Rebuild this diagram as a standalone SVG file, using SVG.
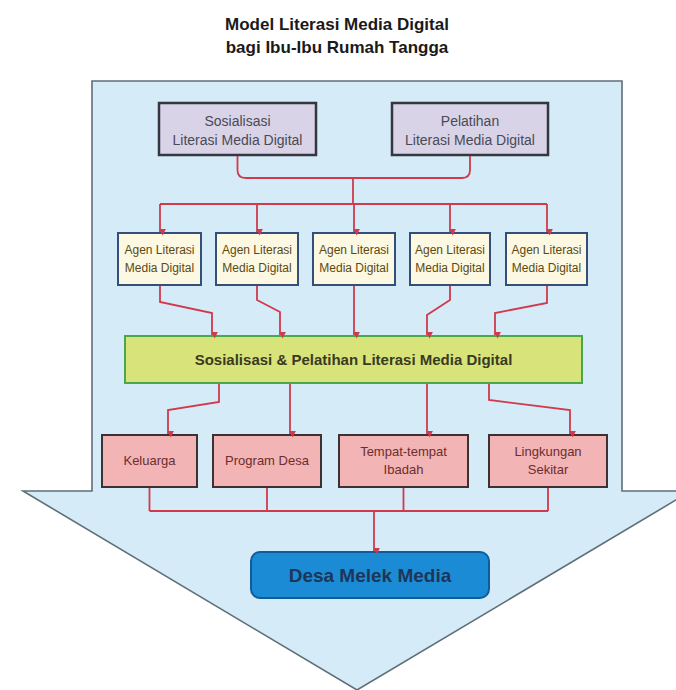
<svg xmlns="http://www.w3.org/2000/svg" width="676" height="690" viewBox="0 0 676 690">
<defs>
<style>
.title{font-family:"Liberation Sans",Arial,sans-serif;font-weight:bold;font-size:17px;fill:#1a1a1a;text-anchor:middle}
.top rect{fill:#d9d3e8;stroke:#34373f;stroke-width:2.5}
.top text{font-family:"Liberation Sans",Arial,sans-serif;font-size:14px;fill:#4a4a55;text-anchor:middle}
.agen rect{fill:#fdf8e2;stroke:#34507a;stroke-width:2}
.agen text{font-family:"Liberation Sans",Arial,sans-serif;font-size:12px;fill:#5a4a12;text-anchor:middle}
.green rect{fill:#d8e47a;stroke:#4aa84c;stroke-width:2}
.green text{font-family:"Liberation Sans",Arial,sans-serif;font-weight:bold;font-size:15px;fill:#3a3a22;text-anchor:middle}
.pink rect{fill:#f2b4b4;stroke:#3c3234;stroke-width:2}
.pink text{font-family:"Liberation Sans",Arial,sans-serif;font-size:13px;fill:#6b2e30;text-anchor:middle}
.desa rect{fill:#1c8bd6;stroke:#0f5c9c;stroke-width:2}
.desa text{font-family:"Liberation Sans",Arial,sans-serif;font-weight:bold;font-size:19px;fill:#1b3658;text-anchor:middle}
.conn path{fill:none;stroke:#d13a4c;stroke-width:1.8}
.conn path.arr{marker-end:url(#ah)}
</style>
<marker id="ah" viewBox="0 0 8 8" refX="4" refY="7" markerWidth="7" markerHeight="7" markerUnits="userSpaceOnUse" orient="auto-start-reverse">
<path d="M0,0 L8,0 L4,8 Z" fill="#d13a4c" transform="rotate(-90 4 4)"/>
</marker>
</defs>
<rect width="676" height="690" fill="#ffffff"/>
<g id="title">
<text class="title" x="337" y="30">Model Literasi Media Digital</text>
<text class="title" x="337" y="53">bagi Ibu-Ibu Rumah Tangga</text>
</g>
<g id="big-arrow">
<path d="M92,81 L622,81 L622,491 L691,491 L357,690 L23,491 L92,491 Z" fill="#d5ebf8" stroke="#5f6f78" stroke-width="1.6"/>
</g>
<g id="sosialisasi" class="top">
<rect x="159" y="103" width="157" height="52"/>
<text x="237.5" y="126">Sosialisasi</text>
<text x="237.5" y="145">Literasi Media Digital</text>
</g>
<g id="pelatihan" class="top">
<rect x="392" y="103" width="156" height="52"/>
<text x="470" y="126">Pelatihan</text>
<text x="470" y="145">Literasi Media Digital</text>
</g>
<g id="agen1" class="agen">
<rect x="118" y="233" width="83" height="52"/>
<text x="159.5" y="254">Agen Literasi</text>
<text x="159.5" y="272">Media Digital</text>
</g>
<g id="agen2" class="agen">
<rect x="216" y="233" width="82" height="52"/>
<text x="257" y="254">Agen Literasi</text>
<text x="257" y="272">Media Digital</text>
</g>
<g id="agen3" class="agen">
<rect x="313" y="233" width="82" height="52"/>
<text x="354" y="254">Agen Literasi</text>
<text x="354" y="272">Media Digital</text>
</g>
<g id="agen4" class="agen">
<rect x="410" y="233" width="80" height="52"/>
<text x="450" y="254">Agen Literasi</text>
<text x="450" y="272">Media Digital</text>
</g>
<g id="agen5" class="agen">
<rect x="506" y="233" width="81" height="52"/>
<text x="546.5" y="254">Agen Literasi</text>
<text x="546.5" y="272">Media Digital</text>
</g>
<g id="sosialisasi-pelatihan" class="green">
<rect x="125" y="336" width="457" height="47"/>
<text x="353.5" y="365">Sosialisasi &amp; Pelatihan Literasi Media Digital</text>
</g>
<g id="keluarga" class="pink">
<rect x="102" y="435" width="95" height="52"/>
<text x="149.5" y="465">Keluarga</text>
</g>
<g id="program-desa" class="pink">
<rect x="213" y="435" width="108" height="52"/>
<text x="267" y="465">Program Desa</text>
</g>
<g id="tempat-ibadah" class="pink">
<rect x="339" y="435" width="129" height="52"/>
<text x="403.5" y="456">Tempat-tempat</text>
<text x="403.5" y="474">Ibadah</text>
</g>
<g id="lingkungan" class="pink">
<rect x="489" y="435" width="118" height="52"/>
<text x="548" y="456">Lingkungan</text>
<text x="548" y="474">Sekitar</text>
</g>
<g id="desa-melek-media" class="desa">
<rect x="251" y="552" width="238" height="46" rx="9" ry="9"/>
<text x="370" y="582">Desa Melek Media</text>
</g>
<g id="connectors" class="conn">
<path d="M237.5,156 V170 Q237.5,178 245.5,178 H462 Q470,178 470,170 V156"/>
<path d="M353,178 V204"/>
<path d="M160,204 H547"/>
<path class="arr" d="M160,204 V232"/>
<path class="arr" d="M257,204 V232"/>
<path class="arr" d="M354,204 V232"/>
<path class="arr" d="M450,204 V232"/>
<path class="arr" d="M547,204 V232"/>
<path class="arr" d="M160,286 V302 L212,313 V335"/>
<path class="arr" d="M257,286 V300 L280,312 V335"/>
<path class="arr" d="M354,286 V335"/>
<path class="arr" d="M450,286 V300 L427,315 V335"/>
<path class="arr" d="M547,286 V303 L495,313 V335"/>
<path class="arr" d="M219,384 V402 L168,410 V434"/>
<path class="arr" d="M290,384 V434"/>
<path class="arr" d="M427,384 V434"/>
<path class="arr" d="M489,384 V400 L570,410 V434"/>
<path d="M149.5,488 V511 M267,488 V511 M403.5,488 V511 M548,488 V511 M149.5,511 H548"/>
<path class="arr" d="M374,511 V551"/>
</g>
</svg>
